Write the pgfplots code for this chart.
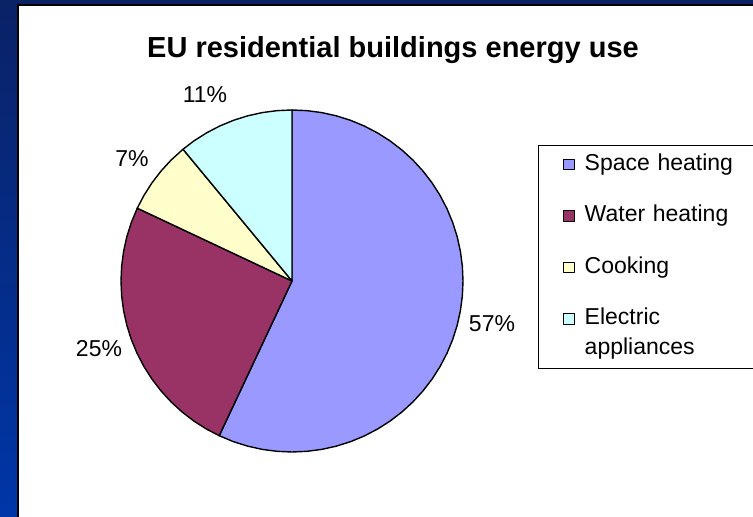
\documentclass[border=0pt]{standalone}
\usepackage{pgfplots}
\pgfplotsset{compat=1.18}
\usepackage{fontspec}
\setmainfont{Liberation Sans}
\definecolor{spaceC}{HTML}{9999FF}
\definecolor{waterC}{HTML}{993366}
\definecolor{cookC}{HTML}{FFFFCC}
\definecolor{elecC}{HTML}{CCFFFF}
\definecolor{bgTop}{HTML}{0A2266}
\definecolor{bgBot}{HTML}{0036A8}
\begin{document}
\begin{tikzpicture}[x=1bp,y=1bp]
\useasboundingbox (0,0) rectangle (753,517);
\clip (0,0) rectangle (753,517);
\shade[top color=bgTop, bottom color=bgBot] (0,0) rectangle (753,517);
\fill[black] (17,0) rectangle (753,513);
\fill[white] (19,0) rectangle (753,511);
\node[anchor=base, font=\fontsize{29bp}{34bp}\selectfont\bfseries] at (393,459) {EU residential buildings energy use};
\begin{axis}[
  at={(292bp,236bp)}, anchor=origin,
  x=171bp, y=171bp, scale only axis,
  xmin=-1, xmax=1, ymin=-1, ymax=1,
  hide axis, clip=false,
  every axis plot/.append style={draw=black, line width=1.4bp, line join=round, data cs=polar},
  legend image code/.code={\draw[#1, draw=black, line width=0.8bp] (0bp,0.8bp) rectangle (10.5bp,11.3bp);},
  legend style={at={(1.2193,0.8977)}, anchor=north west, draw=black, line width=0.8bp,
    inner xsep=25bp, inner ysep=8.5bp, row sep=30bp, column sep=10bp,
    font=\fontsize{23bp}{30bp}\selectfont,
    cells={anchor=base west},
    nodes={inner sep=0pt, text height=16.5bp, text depth=5bp, text width=175bp, align=left}},
]
\addplot[fill=spaceC] coordinates {(0,0) (244.8,1) (250,1) (255,1) (260,1) (265,1) (270,1) (275,1) (280,1) (285,1) (290,1) (295,1) (300,1) (305,1) (310,1) (315,1) (320,1) (325,1) (330,1) (335,1) (340,1) (345,1) (350,1) (355,1) (360,1) (365,1) (370,1) (375,1) (380,1) (385,1) (390,1) (395,1) (400,1) (405,1) (410,1) (415,1) (420,1) (425,1) (430,1) (435,1) (440,1) (445,1) (450,1) (0,0)};
\addlegendentry{Space heating}
\addplot[fill=waterC] coordinates {(0,0) (154.8,1) (160,1) (165,1) (170,1) (175,1) (180,1) (185,1) (190,1) (195,1) (200,1) (205,1) (210,1) (215,1) (220,1) (225,1) (230,1) (235,1) (240,1) (244.8,1) (0,0)};
\addlegendentry{Water heating}
\addplot[fill=cookC] coordinates {(0,0) (129.6,1) (135,1) (140,1) (145,1) (150,1) (154.8,1) (0,0)};
\addlegendentry{Cooking}
\addplot[fill=elecC] coordinates {(0,0) (90,1) (95,1) (100,1) (105,1) (110,1) (115,1) (120,1) (125,1) (129.6,1) (0,0)};
\addlegendentry[text depth=35bp]{Electric\\appliances}
\end{axis}
\begin{scope}[every node/.style={anchor=base, font=\fontsize{23bp}{27bp}\selectfont}]
\node at (205,414) {11\%};
\node at (132,350) {7\%};
\node at (492,185) {57\%};
\node at (99,160) {25\%};
\end{scope}
\end{tikzpicture}
\end{document}
